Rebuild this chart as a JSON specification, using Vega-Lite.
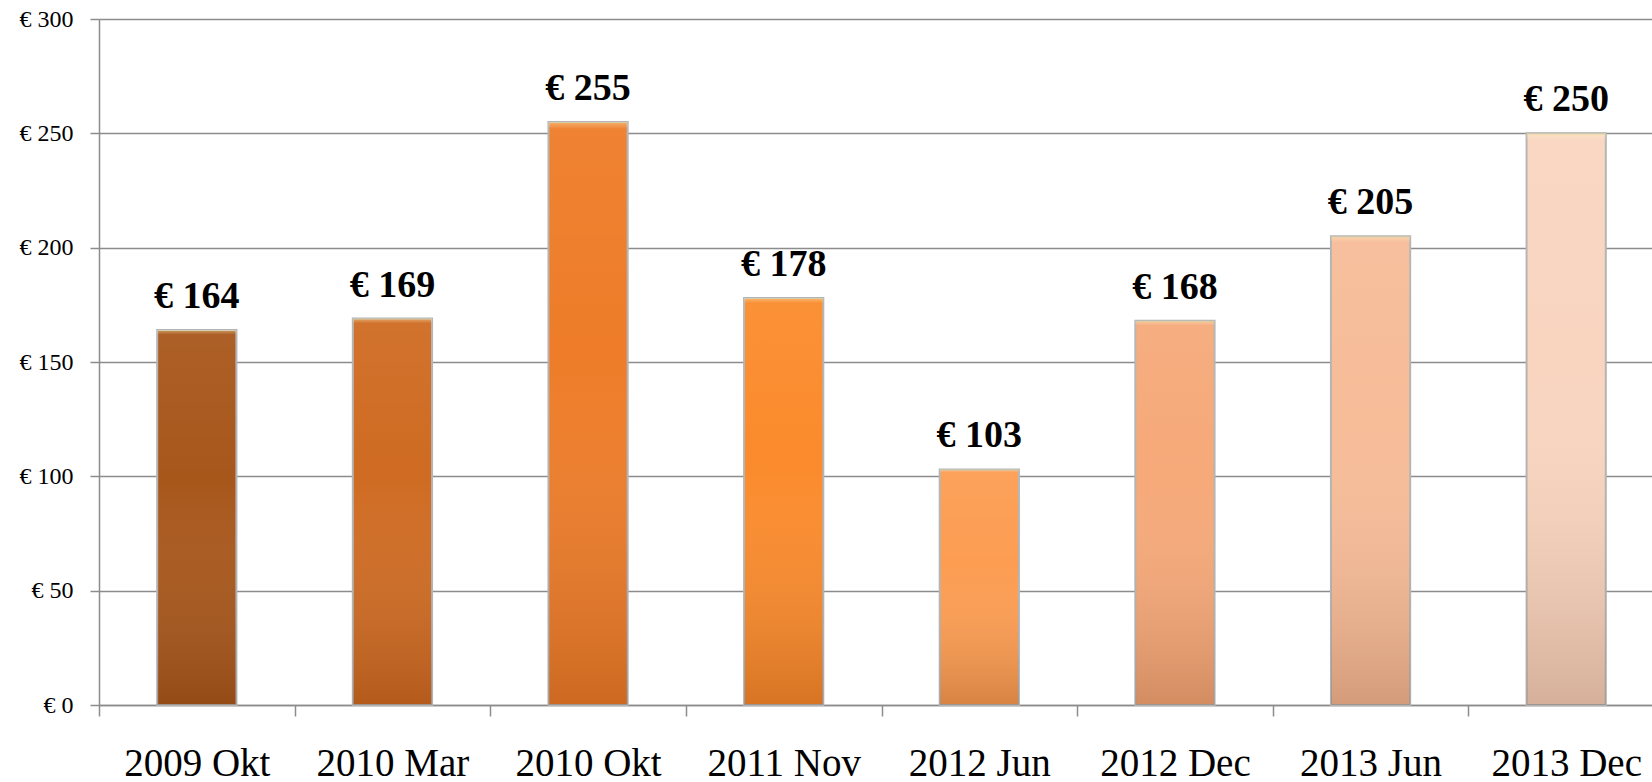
{
  "$schema": "https://vega.github.io/schema/vega-lite/v6.json",
  "width": 1553,
  "height": 686,
  "autosize": {"type": "none"},
  "padding": {"left": 99, "top": 19, "right": 0, "bottom": 77},
  "background": "white",
  "config": {
    "view": {"stroke": null},
    "font": "Liberation Serif",
    "locale": {"number": {"decimal": ",", "thousands": ".", "grouping": [3], "currency": ["€ ", ""]}}
  },
  "data": {
    "values": [
      {"period": "2009 Okt", "value": 164},
      {"period": "2010 Mar", "value": 169},
      {"period": "2010 Okt", "value": 255},
      {"period": "2011 Nov", "value": 178},
      {"period": "2012 Jun", "value": 103},
      {"period": "2012 Dec", "value": 168},
      {"period": "2013 Jun", "value": 205},
      {"period": "2013 Dec", "value": 250}
    ]
  },
  "encoding": {
    "x": {
      "field": "period", "type": "ordinal", "sort": null,
      "scale": {"range": [0, 1565], "paddingInner": 0, "paddingOuter": 0},
      "axis": {
        "title": null, "labelAngle": 0, "labelFont": "Liberation Serif", "labelFontSize": 39,
        "labelColor": "#000000", "tickBand": "extent", "tickSize": 11, "tickColor": "#8c8c8c",
        "tickWidth": 1.5, "domainColor": "#8c8c8c", "domainWidth": 1.5, "labelPadding": 28,
        "grid": false
      }
    },
    "y": {
      "field": "value", "type": "quantitative",
      "scale": {"domain": [0, 300], "nice": false},
      "axis": {
        "title": null, "values": [0, 50, 100, 150, 200, 250, 300], "format": "$d",
        "labelFont": "Liberation Serif", "labelFontSize": 24, "labelColor": "#000000",
        "tickSize": 9, "tickColor": "#8c8c8c", "tickWidth": 1.5, "labelPadding": 17,
        "domainColor": "#8c8c8c", "domainWidth": 1.5,
        "grid": true, "gridColor": "#8c8c8c", "gridWidth": 1.5
      }
    }
  },
  "layer": [
    {
      "mark": {"type": "bar", "width": {"band": 0.405}, "stroke": "#b4b4b4", "strokeWidth": 2, "clip": false},
      "encoding": {
        "color": {
          "field": "period", "type": "nominal", "sort": null, "legend": null,
          "scale": {
            "domain": ["2009 Okt", "2010 Mar", "2010 Okt", "2011 Nov", "2012 Jun", "2012 Dec", "2013 Jun", "2013 Dec"],
            "range": ["#A8571B", "#CF6B22", "#EE7C28", "#FB8B2C", "#FC9D52", "#F6A979", "#F7BC98", "#F9D5C0"]
          }
        }
      }
    },
    {
      "mark": {
        "type": "bar", "width": {"band": 0.405}, "clip": false,
        "color": {
          "gradient": "linear", "x1": 0, "y1": 0, "x2": 0, "y2": 1,
          "stops": [
            {"offset": 0, "color": "rgba(255,240,160,0.45)"},
            {"offset": 0.012, "color": "rgba(255,255,255,0.05)"},
            {"offset": 0.4, "color": "rgba(255,255,255,0)"},
            {"offset": 1, "color": "rgba(70,25,0,0.2)"}
          ]
        }
      }
    },
    {
      "mark": {"type": "text", "font": "Liberation Serif", "fontWeight": "bold", "fontSize": 38, "baseline": "alphabetic", "dy": -22, "color": "#000000", "clip": false},
      "encoding": {"text": {"field": "value", "type": "quantitative", "format": "$d"}}
    }
  ]
}
